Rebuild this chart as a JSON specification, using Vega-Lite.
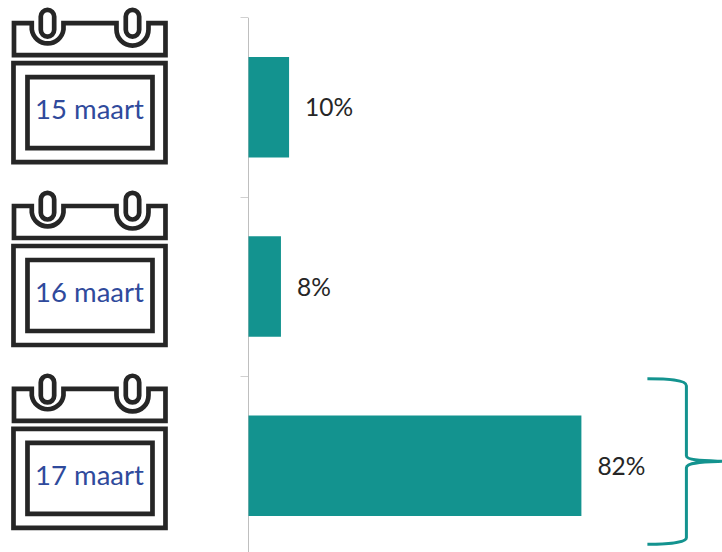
{"$schema":"https://vega.github.io/schema/vega-lite/v6.json","width":722,"height":552,"autosize":"none","padding":0,"background":"white","config":{"view":{"stroke":null}},
"data":{"values":[{"datum":"15 maart","rank":1,"pct":10,"label":"10%"},{"datum":"16 maart","rank":2,"pct":8,"label":"8%"},{"datum":"17 maart","rank":3,"pct":82,"label":"82%"}]},
"resolve":{"scale":{"y":"independent"}},
"layer":[
{"layer":[
{"mark":{"type":"bar","color":"#13938f"},"encoding":{"x":{"field":"pct","type":"quantitative","scale":{"domain":[-61.2,116.63],"range":[0,722],"nice":false,"zero":false},"axis":null},"y":{"field":"datum","type":"nominal","scale":{"range":[17.5,555.5],"paddingInner":0.44,"paddingOuter":0.22},"axis":{"title":null,"labels":false,"ticks":true,"tickBand":"center","tickOffset":-89.67,"tickSize":8,"tickColor":"#d0d0d0","domainColor":"#bfbfbf","offset":-248,"grid":false}}}},
{"mark":{"type":"text","align":"left","baseline":"middle","dx":16,"dy":2,"font":"Lato","fontSize":24.5,"color":"#262626"},"encoding":{"x":{"field":"pct","type":"quantitative"},"y":{"field":"datum","type":"nominal"},"text":{"field":"label"}}},
{"transform":[{"filter":"datum.rank==3"}],"mark":{"type":"point","filled":false,"size":4,"stroke":"#13938f","strokeWidth":3,"opacity":1,"shape":"M66,-87 C85,-87 105,-86 105,-80 L105,-10 C105,-5 125,-5 141,-4.5 C125,-4 105,-4 105,2 L105,72 C105,77 85,78.5 66,78.5"},"encoding":{"x":{"field":"pct","type":"quantitative"},"y":{"field":"datum","type":"nominal"}}}
]},
{"layer":[
{"mark":{"type":"point","filled":false,"size":4,"stroke":"#262626","strokeWidth":4.7,"opacity":1,"shape":"M-57.7,-84 L-75.5,-84 L-75.5,-52 L76,-52 L76,-84 L59,-84 L59,-77.5 A16,16 0 0 1 27,-77.5 L27,-84 L-26,-84 L-26,-77.5 A16,16 0 0 1 -57.7,-77.5 Z M-48.7,-90.5 A6.7,6.7 0 0 1 -35.3,-90.5 L-35.3,-77.2 A6.7,6.7 0 0 1 -48.7,-77.2 Z M36.3,-90.5 A6.7,6.7 0 0 1 49.7,-90.5 L49.7,-77.2 A6.7,6.7 0 0 1 36.3,-77.2 Z M-76,-44 L76,-44 L76,55 L-76,55 Z M-62,-30 L63,-30 L63,41 L-62,41 Z"},"encoding":{"x":{"datum":-39.16,"type":"quantitative"},"y":{"field":"rank","type":"quantitative","scale":{"domain":[0.415,3.432],"range":[0,552],"nice":false,"zero":false},"axis":null}}},
{"mark":{"type":"text","align":"center","baseline":"middle","dy":4,"font":"Lato","fontSize":27.5,"color":"#2f4a9c"},"encoding":{"x":{"datum":-39.16,"type":"quantitative"},"y":{"field":"rank","type":"quantitative"},"text":{"field":"datum"}}}
]}
]}
